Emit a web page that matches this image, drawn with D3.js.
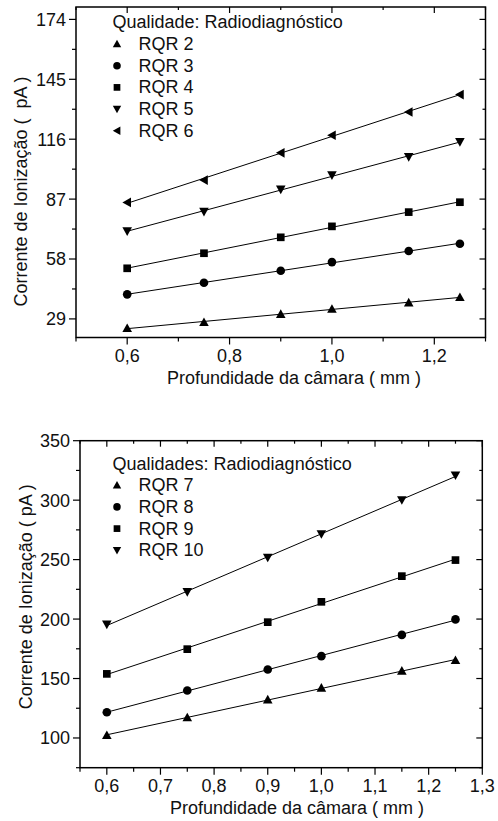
<!DOCTYPE html>
<html>
<head>
<meta charset="utf-8">
<script src="https://cdn.jsdelivr.net/npm/d3@7.9.0/dist/d3.min.js"></script>
<style>
  body { margin: 0; background: #fff; }
  svg { display: block; font-family: 'Liberation Sans', Arial, sans-serif; }
</style>
</head>
<body>
<svg id="chart" width="498" height="821"></svg>
<script>
// shared x positions (mm)
const depths = [0.6, 0.75, 0.9, 1.0, 1.15, 1.25];

// top panel
const topSeries = ['RQR 2', 'RQR 3', 'RQR 4', 'RQR 5', 'RQR 6'];
const rqr2 = [24.5, 27.4, 31.3, 33.8, 36.9, 39.5];
const rqr3 = [40.9, 46.5, 52.3, 56.5, 61.9, 65.4];
const rqr4 = [53.5, 60.8, 68.5, 73.8, 80.7, 85.5];
const rqr5 = [71.5, 80.9, 91.7, 98.6, 107.4, 114.7];
const rqr6 = [85.4, 96.2, 109.4, 117.9, 129.2, 137.6];
const topYTicks = [29, 58, 87, 116, 145, 174];
const topXTicks = [0.6, 0.8, 1.0, 1.2];

// bottom panel
const bottomSeries = ['RQR 7', 'RQR 8', 'RQR 9', 'RQR 10'];
const rqr7 = [102.3, 117.2, 132.3, 142.1, 156.4, 165.4];
const rqr8 = [121.6, 139.9, 157.6, 168.8, 186.7, 199.7];
const rqr9 = [153.9, 174.7, 197.4, 214.5, 236.1, 249.6];
const rqr10 = [195.5, 222.9, 251.8, 271.5, 300.1, 320.9];
const bottomYTicks = [100, 150, 200, 250, 300, 350];
const bottomXTicks = [0.6, 0.7, 0.8, 0.9, 1.0, 1.1, 1.2, 1.3];

const svg = d3.select('#chart');
const FONT = 18;

// marker shapes, centred on their bounding box
function markerPath(shape, s) {
    switch (shape) {
    case 'up': return `M0,${-s}L${s},${s * 0.8}L${-s},${s * 0.8}Z`;
    case 'down': return `M0,${s}L${s},${-s * 0.8}L${-s},${-s * 0.8}Z`;
    case 'left': return `M${-s},0L${s * 0.8},${-s}L${s * 0.8},${s}Z`;
    case 'square': return `M${-s * 0.8},${-s * 0.8}h${s * 1.6}v${s * 1.6}h${-s * 1.6}Z`;
    default: return d3.symbol(d3.symbolCircle, Math.PI * (s * 0.9) ** 2)();
    }
}

function commaFmt(v) {
    return d3.format('.1f')(v).replace('.', ',');
}

function linearFit(xs, ys) {
    const mx = d3.mean(xs), my = d3.mean(ys);
    const b = d3.sum(xs, (x, i) => (x - mx) * (ys[i] - my)) / d3.sum(xs, x => (x - mx) ** 2);
    return x => my + b * (x - mx);
}

function drawPanel(cfg) {
    const g = svg.append('g');
    const x = d3.scaleLinear().domain(cfg.xDomain).range([cfg.left, cfg.right]);
    const y = d3.scaleLinear().domain(cfg.yDomain).range([cfg.bottom, cfg.top]);

    const xMinor = cfg.xMinor.filter(v => v >= cfg.xDomain[0] - 1e-9 && v <= cfg.xDomain[1] + 1e-9);
    const yMinor = cfg.yMinor.filter(v => v >= cfg.yDomain[0] && v <= cfg.yDomain[1]);

    const ticks = g.append('g').attr('stroke', '#000').attr('stroke-width', 1.2);
    // bottom (outward) and top (inward)
    cfg.xTicks.forEach(v => {
        ticks.append('line').attr('x1', x(v)).attr('x2', x(v)).attr('y1', cfg.bottom).attr('y2', cfg.bottom + 7);
        ticks.append('line').attr('x1', x(v)).attr('x2', x(v)).attr('y1', cfg.top).attr('y2', cfg.top + 6);
    });
    xMinor.forEach(v => {
        ticks.append('line').attr('x1', x(v)).attr('x2', x(v)).attr('y1', cfg.bottom).attr('y2', cfg.bottom + 4);
        ticks.append('line').attr('x1', x(v)).attr('x2', x(v)).attr('y1', cfg.top).attr('y2', cfg.top + 3);
    });
    // left (outward) and right (inward)
    cfg.yTicks.forEach(v => {
        ticks.append('line').attr('y1', y(v)).attr('y2', y(v)).attr('x1', cfg.left - 7).attr('x2', cfg.left);
        ticks.append('line').attr('y1', y(v)).attr('y2', y(v)).attr('x1', cfg.right - 6).attr('x2', cfg.right);
    });
    yMinor.forEach(v => {
        ticks.append('line').attr('y1', y(v)).attr('y2', y(v)).attr('x1', cfg.left - 4).attr('x2', cfg.left);
        ticks.append('line').attr('y1', y(v)).attr('y2', y(v)).attr('x1', cfg.right - 3).attr('x2', cfg.right);
    });

    g.append('rect')
        .attr('x', cfg.left).attr('y', cfg.top)
        .attr('width', cfg.right - cfg.left).attr('height', cfg.bottom - cfg.top)
        .attr('fill', 'none').attr('stroke', '#000').attr('stroke-width', 1.5);

    // tick labels
    g.selectAll('.xl').data(cfg.xTicks).join('text')
        .attr('x', d => x(d)).attr('y', cfg.bottom + 24)
        .attr('text-anchor', 'middle').attr('font-size', FONT).attr('fill', '#111')
        .text(commaFmt);
    g.selectAll('.yl').data(cfg.yTicks).join('text')
        .attr('x', cfg.left - 10).attr('y', d => y(d)).attr('dy', '0.36em')
        .attr('text-anchor', 'end').attr('font-size', FONT).attr('fill', '#111')
        .text(d => d);

    // axis titles
    g.append('text')
        .attr('x', cfg.xTitleX).attr('y', cfg.bottom + 46)
        .attr('text-anchor', 'middle').attr('font-size', FONT).attr('fill', '#111')
        .text('Profundidade da câmara ( mm )');
    g.append('text')
        .attr('transform', `translate(${cfg.yTitleX},${cfg.yTitleY}) rotate(-90)`)
        .attr('text-anchor', 'middle').attr('font-size', FONT).attr('fill', '#111')
        .style('white-space', 'pre')
        .text(cfg.yTitle);

    // fitted lines and markers
    cfg.series.forEach((s, i) => {
        const fit = linearFit(depths, s.values);
        const x0 = depths[0], x1 = depths[depths.length - 1];
        g.append('line')
            .attr('x1', x(x0)).attr('y1', y(fit(x0)))
            .attr('x2', x(x1)).attr('y2', y(fit(x1)))
            .attr('stroke', '#000').attr('stroke-width', 1);
        g.selectAll(null).data(s.values).join('path')
            .attr('transform', (d, j) => `translate(${x(depths[j])},${y(d)})`)
            .attr('d', markerPath(s.shape, 4.8))
            .attr('fill', '#000');
    });

    // legend
    const lg = g.append('g');
    lg.append('text')
        .attr('x', cfg.legendX).attr('y', cfg.legendY)
        .attr('font-size', FONT).attr('fill', '#111')
        .text(cfg.legendTitle);
    cfg.series.forEach((s, i) => {
        const yy = cfg.legendY + 21.7 * (i + 1);
        lg.append('path')
            .attr('transform', `translate(${cfg.legendX + 4.5},${yy - 6})`)
            .attr('d', markerPath(s.shape, 4.2))
            .attr('fill', '#000');
        lg.append('text')
            .attr('x', cfg.legendX + 26).attr('y', yy)
            .attr('font-size', FONT).attr('fill', '#111')
            .text(s.name);
    });
}

const shapes = ['up', 'circle', 'square', 'down', 'left'];

drawPanel({
    left: 76, right: 485.5, top: 7, bottom: 337.5,
    xDomain: [0.5, 1.3], yDomain: [20, 180],
    xTicks: topXTicks, xMinor: [0.5, 0.7, 0.9, 1.1, 1.3],
    yTicks: topYTicks, yMinor: topYTicks.map(v => v + 14.5),
    series: [rqr2, rqr3, rqr4, rqr5, rqr6].map((v, i) => ({ name: topSeries[i], values: v, shape: shapes[i] })),
    legendTitle: 'Qualidade: Radiodiagnóstico', legendX: 112.5, legendY: 28.3,
    xTitleX: 294, yTitleX: 27, yTitleY: 191.5,
    yTitle: 'Corrente de Ionização (  pA )',
});

drawPanel({
    left: 80, right: 482.3, top: 440.7, bottom: 767.7,
    xDomain: [0.55, 1.3], yDomain: [75, 350],
    xTicks: bottomXTicks, xMinor: d3.range(0.55, 1.3, 0.1).map(v => +v.toFixed(2)),
    yTicks: bottomYTicks, yMinor: [75, 125, 175, 225, 275, 325],
    series: [rqr7, rqr8, rqr9, rqr10].map((v, i) => ({ name: bottomSeries[i], values: v, shape: shapes[i] })),
    legendTitle: 'Qualidades: Radiodiagnóstico', legendX: 112.5, legendY: 469.5,
    xTitleX: 297, yTitleX: 31.5, yTitleY: 596.7,
    yTitle: 'Corrente de Ionização ( pA )',
});
</script>
</body>
</html>
